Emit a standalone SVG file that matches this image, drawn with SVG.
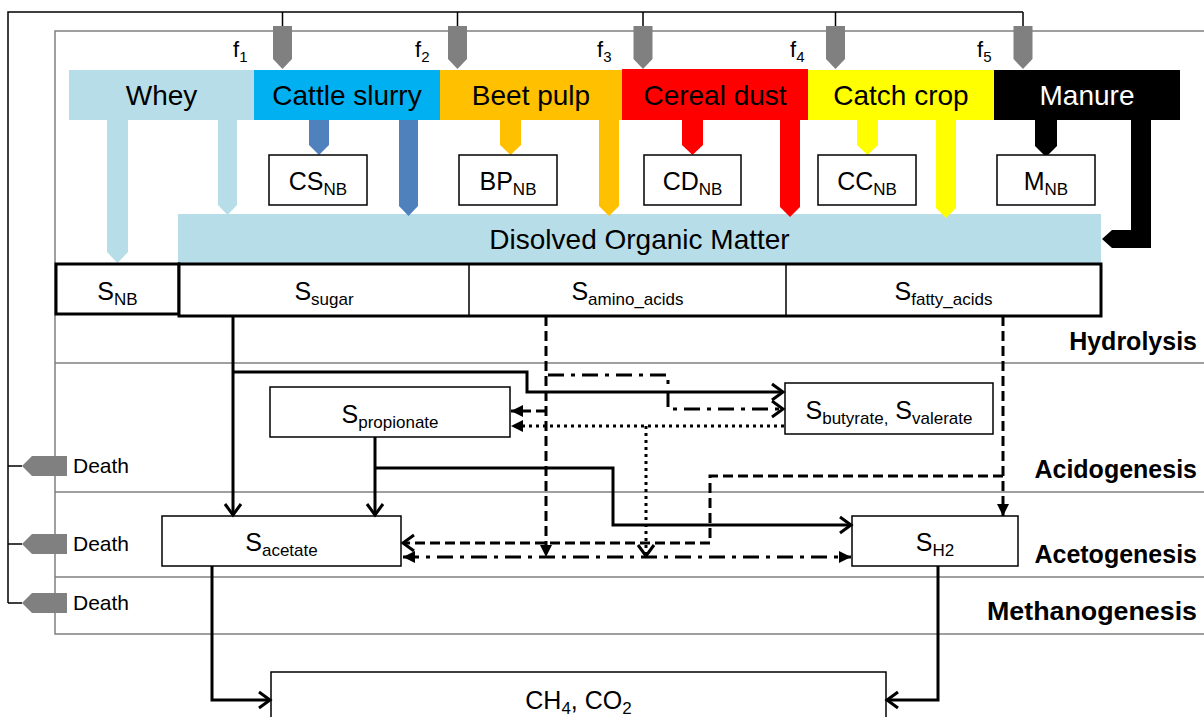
<svg xmlns="http://www.w3.org/2000/svg" width="1204" height="717" viewBox="0 0 1204 717">
<defs>
<style>
.t{font-family:"Liberation Sans",Arial,sans-serif;fill:#000}
.feed{font-size:28px;text-anchor:middle}
.lab{font-size:25px;text-anchor:middle}
.sub{font-size:17px}
.stage{font-size:25px;font-weight:bold;text-anchor:end}
.death{font-size:21px}
.fl{font-size:22px}
.fs{font-size:15px}
.frame{stroke:#808080;stroke-width:1.5;fill:none}
.outer{stroke:#000;stroke-width:1.5;fill:none}
.box{fill:#fff;stroke:#000;stroke-width:1.5}
.thick{fill:#fff;stroke:#000;stroke-width:3}
.c{fill:none;stroke:#000;stroke-width:3}
.dash{stroke-dasharray:10 5}
.dot{stroke-dasharray:3 4}
.dd{stroke-dasharray:16 7 4 7}
.gray{fill:#808080}
</style>
<marker id="open" markerUnits="userSpaceOnUse" markerWidth="18" markerHeight="20" refX="14" refY="10" orient="auto-start-reverse" overflow="visible"><path d="M3,2 L14,10 L3,18" fill="none" stroke="#000" stroke-width="3"/></marker>
<marker id="fill" markerUnits="userSpaceOnUse" markerWidth="14" markerHeight="14" refX="12" refY="7" orient="auto-start-reverse"><path d="M0,1 L12,7 L0,13 z" fill="#000"/></marker>
</defs>
<rect width="1204" height="717" fill="#fff"/>
<g id="frame">
<path class="frame" d="M1204,31 H55 V634 H1204 M55,363 H1204 M55,492 H1204 M55,577 H1204"/>
<path class="outer" d="M8,603 V12 H1023 M282.5,12 V26 M457.5,12 V26 M643,12 V26 M835.5,12 V26 M1023,12 V26 M8,466 H22 M8,544 H22 M8,603 H22"/>
</g>
<g id="feed-arrows">
<polygon class="gray" points="273,26 292,26 292,59 282.5,69 273,59"/>
<polygon class="gray" points="448,26 467,26 467,59 457.5,69 448,59"/>
<polygon class="gray" points="633.5,26 652.5,26 652.5,59 643,69 633.5,59"/>
<polygon class="gray" points="826,26 845,26 845,59 835.5,69 826,59"/>
<polygon class="gray" points="1013.5,26 1032.5,26 1032.5,59 1023,69 1013.5,59"/>
</g>
<g id="f-labels" class="t">
<text x="233" y="57" class="fl">f<tspan class="fs" dy="5">1</tspan></text>
<text x="415" y="57" class="fl">f<tspan class="fs" dy="5">2</tspan></text>
<text x="597" y="57" class="fl">f<tspan class="fs" dy="5">3</tspan></text>
<text x="790" y="57" class="fl">f<tspan class="fs" dy="5">4</tspan></text>
<text x="977" y="57" class="fl">f<tspan class="fs" dy="5">5</tspan></text>
</g>
<g id="dom">
<rect x="178" y="214" width="923" height="49" fill="#B7DDE8"/>
<text class="t feed" x="639.5" y="249">Disolved Organic Matter</text>
</g>
<g id="whey">
<rect x="69" y="70" width="185" height="50" fill="#B7DDE8"/>
<text class="t feed" x="161.5" y="105">Whey</text>
<polygon fill="#B7DDE8" points="107,120 128,120 128,252 117.5,263 107,252"/>
<polygon fill="#B7DDE8" points="218,120 237,120 237,205 227.5,215 218,205"/>
</g>
<g id="cattle-slurry">
<rect x="254" y="70" width="186" height="50" fill="#00B0F0"/>
<text class="t feed" x="347" y="105">Cattle slurry</text>
<polygon fill="#4F81BD" points="309,120 329,120 329,145 319,155 309,145"/>
<polygon fill="#4F81BD" points="399,120 418,120 418,206 408.5,216 399,206"/>
</g>
<g id="beet-pulp">
<rect x="440" y="70" width="182" height="50" fill="#FFC000"/>
<text class="t feed" x="531" y="105">Beet pulp</text>
<polygon fill="#FFC000" points="500,120 521,120 521,145 510.5,155 500,145"/>
<polygon fill="#FFC000" points="599,120 619,120 619,206 609,216 599,206"/>
</g>
<g id="cereal-dust">
<rect x="622" y="69" width="186" height="51" fill="#FF0000"/>
<text class="t feed" x="715" y="105">Cereal dust</text>
<polygon fill="#FF0000" points="682,120 703,120 703,145 692.5,155 682,145"/>
<polygon fill="#FF0000" points="780,120 800,120 800,207 790,217 780,207"/>
</g>
<g id="catch-crop">
<rect x="808" y="70" width="186" height="50" fill="#FFFF00"/>
<text class="t feed" x="901" y="105">Catch crop</text>
<polygon fill="#FFFF00" points="857,120 878,120 878,145 867.5,155 857,145"/>
<polygon fill="#FFFF00" points="936,120 956,120 956,208 946,218 936,208"/>
</g>
<g id="manure">
<rect x="994" y="70" width="186" height="50" fill="#000"/>
<text class="t feed" x="1087" y="105" style="fill:#fff">Manure</text>
<polygon fill="#000" points="1035,120 1057,120 1057,146 1046,157 1035,146"/>
<polygon fill="#000" points="1131,120 1151,120 1151,248 1112,248 1102,239 1112,230 1131,230"/>
</g>
<g id="cs-nb"><rect class="box" x="269" y="155" width="98" height="50"/><text class="t lab" x="318" y="190">CS<tspan class="sub" dy="5">NB</tspan></text></g>
<g id="bp-nb"><rect class="box" x="459" y="155" width="98" height="50"/><text class="t lab" x="508" y="190">BP<tspan class="sub" dy="5">NB</tspan></text></g>
<g id="cd-nb"><rect class="box" x="644" y="155" width="97" height="50"/><text class="t lab" x="692.5" y="190">CD<tspan class="sub" dy="5">NB</tspan></text></g>
<g id="cc-nb"><rect class="box" x="818" y="155" width="98" height="50"/><text class="t lab" x="867" y="190">CC<tspan class="sub" dy="5">NB</tspan></text></g>
<g id="m-nb"><rect class="box" x="997" y="155" width="98" height="50"/><text class="t lab" x="1046" y="190">M<tspan class="sub" dy="5">NB</tspan></text></g>
<g id="s-nb"><rect class="thick" x="56" y="264" width="123" height="50"/><text class="t lab" x="117.5" y="300">S<tspan class="sub" dy="5">NB</tspan></text></g>
<g id="substrates">
<rect class="thick" x="179" y="264" width="922" height="52"/>
<path d="M469,264 V316 M786,264 V316" stroke="#000" stroke-width="1.5"/>
<text class="t lab" x="324" y="300">S<tspan class="sub" dy="5">sugar</tspan></text>
<text class="t lab" x="627.5" y="300">S<tspan class="sub" dy="5">amino_acids</tspan></text>
<text class="t lab" x="943.5" y="300">S<tspan class="sub" dy="5">fatty_acids</tspan></text>
</g>
<g id="propionate"><rect class="box" x="270" y="387" width="240" height="50"/><text class="t lab" x="390" y="423">S<tspan class="sub" dy="5">propionate</tspan></text></g>
<g id="butyrate"><rect class="box" x="785" y="383" width="208" height="51"/><text class="t lab" x="889" y="419">S<tspan class="sub" dy="5">butyrate,</tspan><tspan dy="-5"> S</tspan><tspan class="sub" dy="5">valerate</tspan></text></g>
<g id="acetate"><rect class="box" x="162" y="516" width="239" height="50"/><text class="t lab" x="281.5" y="551">S<tspan class="sub" dy="5">acetate</tspan></text></g>
<g id="h2"><rect class="box" x="852" y="516" width="166" height="50"/><text class="t lab" x="935" y="551">S<tspan class="sub" dy="5">H2</tspan></text></g>
<g id="ch4"><rect class="box" x="271" y="672" width="615" height="60"/><text class="t lab" x="578.5" y="709">CH<tspan class="sub" dy="5">4</tspan><tspan dy="-5">, CO</tspan><tspan class="sub" dy="5">2</tspan></text></g>
<g id="connectors">
<path class="c" d="M233,316 V515" marker-end="url(#open)"/>
<path class="c" d="M233,372 H527 V392 H783" marker-end="url(#open)"/>
<path class="c" d="M375,437 V515" marker-end="url(#open)"/>
<path class="c" d="M375,468 H613 V525 H851" marker-end="url(#open)"/>
<path class="c dash" d="M546,316 V557" marker-end="url(#fill)"/>
<path class="c dash" d="M546,411 H511" marker-end="url(#fill)"/>
<path class="c dd" d="M548,375 H668 V409 H783" marker-end="url(#open)"/>
<path class="c dot" d="M784,426 H511" marker-end="url(#fill)"/>
<path class="c dot" d="M646,426 V556" marker-end="url(#open)"/>
<path class="c dash" d="M1003,316 V516" marker-end="url(#fill)"/>
<path class="c dash" d="M1003,476 H710 V543 H403" marker-end="url(#open)"/>
<path class="c dd" d="M403,557 H851" marker-start="url(#fill)" marker-end="url(#fill)"/>
<path class="c" d="M212,566 V700 H270" marker-end="url(#open)"/>
<path class="c" d="M938,566 V700 H887" marker-end="url(#open)"/>
</g>
<g id="death">
<polygon class="gray" points="67,456 32,456 22,466 32,476 67,476"/>
<polygon class="gray" points="67,534 32,534 22,544 32,554 67,554"/>
<polygon class="gray" points="67,593 32,593 22,603 32,613 67,613"/>
<text class="t death" x="73" y="473">Death</text>
<text class="t death" x="73" y="551">Death</text>
<text class="t death" x="73" y="610">Death</text>
</g>
<g id="stages" class="t">
<text class="stage" x="1197" y="350">Hydrolysis</text>
<text class="stage" x="1197" y="478">Acidogenesis</text>
<text class="stage" x="1197" y="563">Acetogenesis</text>
<text class="stage" x="1197" y="620" textLength="210" lengthAdjust="spacingAndGlyphs">Methanogenesis</text>
</g>
</svg>
